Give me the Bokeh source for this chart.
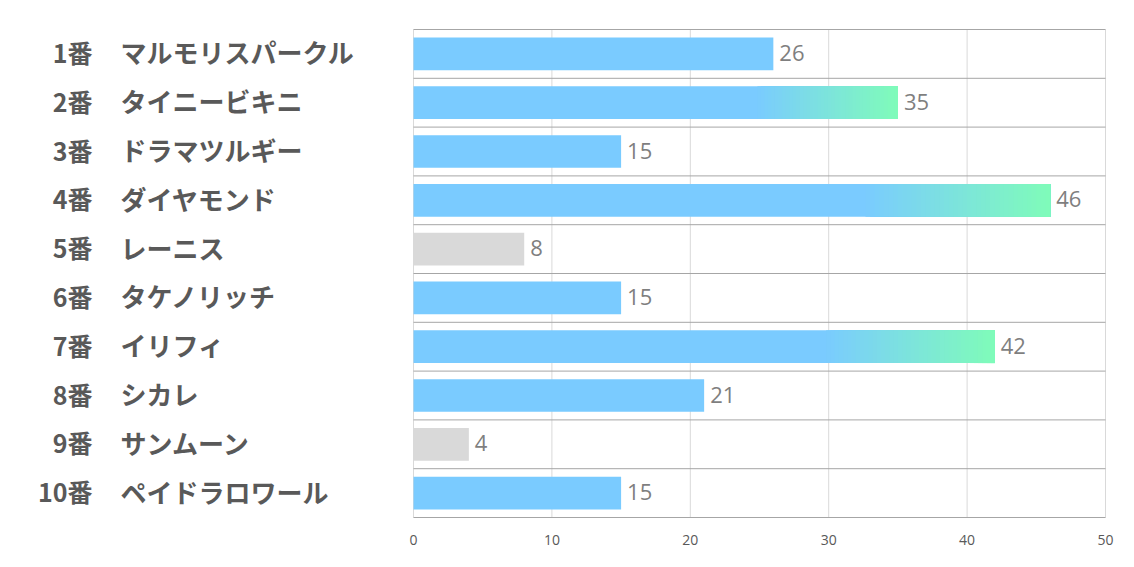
from bokeh.plotting import figure
from bokeh.models import Range1d, FixedTicker, ColumnDataSource
from bokeh.core.properties import value
from bokeh.embed import file_html
from bokeh.resources import INLINE

numbers = ["1番", "2番", "3番", "4番", "5番", "6番", "7番", "8番", "9番", "10番"]
names = ["マルモリスパークル", "タイニービキニ", "ドラマツルギー", "ダイヤモンド", "レーニス",
         "タケノリッチ", "イリフィ", "シカレ", "サンムーン", "ペイドラロワール"]
values = [26, 35, 15, 46, 8, 15, 42, 21, 4, 15]
x_ticks = [0, 10, 20, 30, 40, 50]

BLUE = (122, 203, 255)
GREEN = (127, 251, 186)
GREY = "#d9d9d9"

def hexc(c):
    return "#%02x%02x%02x" % tuple(int(round(v)) for v in c)

n = len(values)
ys = list(range(1, n + 1))

# pixel geometry of the plotting area
PX_LEFT, PX_RIGHT = 413, 1105
PX_TOP, PX_BOTTOM = 29, 517
W, FH = 1126, 520
xpx = (PX_RIGHT - PX_LEFT) / (x_ticks[-1] - x_ticks[0])
ypx = (PX_BOTTOM - PX_TOP) / n
x0 = x_ticks[0] - PX_LEFT / xpx
x1 = x_ticks[-1] + (W - PX_RIGHT) / xpx
y_top = 0.5 - PX_TOP / ypx
y_bot = n + 0.5 + (FH - PX_BOTTOM) / ypx

p = figure(frame_width=W, frame_height=FH,
           x_range=Range1d(x0, x1), y_range=Range1d(y_bot, y_top),
           output_backend="svg", toolbar_location=None)
p.min_border = 0
p.outline_line_color = None
p.background_fill_color = "white"
p.border_fill_color = "white"
p.xgrid.visible = False
p.ygrid.visible = False

p.yaxis.visible = False
p.xaxis.ticker = FixedTicker(ticks=x_ticks)
p.xaxis.axis_line_color = None
p.xaxis.major_tick_line_color = None
p.xaxis.minor_tick_line_color = None
p.xaxis.major_label_text_font = "Open Sans"
p.xaxis.major_label_text_font_size = "14px"
p.xaxis.major_label_text_color = "#595959"
p.xaxis.major_label_standoff = 8

# gridlines
bounds = [i + 0.5 for i in range(n + 1)]
p.segment(x0=x_ticks, x1=x_ticks, y0=[bounds[0]] * len(x_ticks), y1=[bounds[-1]] * len(x_ticks),
          line_color="#d9d9d9", line_width=1)
p.segment(x0=[x_ticks[0]] * len(bounds), x1=[x_ticks[-1]] * len(bounds), y0=bounds, y1=bounds,
          line_color="#a6a6a6", line_width=1)

BAR_H = 0.67
for v, y in zip(values, ys):
    if v < 10:
        p.hbar(y=[y], left=[0], right=[v], height=BAR_H, fill_color=GREY, line_color=None)
    else:
        p.hbar(y=[y], left=[0], right=[v], height=BAR_H, fill_color=hexc(BLUE), line_color=None)
        if v >= 30:
            steps = 40
            start = 0.71 * v
            lefts, rights, cols = [], [], []
            for k in range(steps):
                t = (k + 1) / steps
                lefts.append(start + (v - start) * k / steps)
                rights.append(v)
                cols.append(hexc(tuple(BLUE[i] + (GREEN[i] - BLUE[i]) * t for i in range(3))))
            p.hbar(y=[y] * steps, left=lefts, right=rights, height=BAR_H,
                   fill_color=cols, line_color=None)

src = ColumnDataSource(dict(x=values, y=ys, t=[str(v) for v in values],
                            zero=[0] * n, num=numbers, name=names))
p.text(x="x", y="y", text="t", source=src, x_offset=6, y_offset=-1,
       text_baseline="middle", text_align="left",
       text_font=value("Open Sans"), text_font_size="22px", text_color="#7f7f7f")

p.text(x="zero", y="y", text="num", source=src, x_offset=-(PX_LEFT - 92), y_offset=-2,
       text_baseline="middle", text_align="right",
       text_font=value("Noto Sans CJK JP"), text_font_style="bold",
       text_font_size="25px", text_color="#595959")
p.text(x="zero", y="y", text="name", source=src, x_offset=-(PX_LEFT - 120), y_offset=-2,
       text_baseline="middle", text_align="left",
       text_font=value("Noto Sans CJK JP"), text_font_style="bold",
       text_font_size="26px", text_color="#595959")

open("out.html", "w").write(file_html(p, INLINE))
